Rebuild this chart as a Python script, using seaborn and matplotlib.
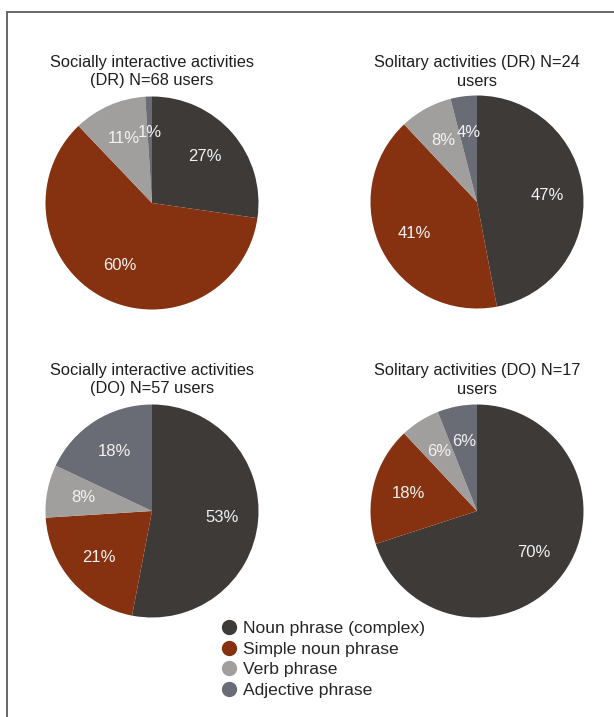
import matplotlib
matplotlib.use("Agg")
import matplotlib.pyplot as plt
from matplotlib.lines import Line2D
import seaborn as sns

sns.set_theme(style="white")
plt.rcParams["font.family"] = ["Liberation Sans", "DejaVu Sans"]

# Phrase categories and their colours
categories = ["Noun phrase (complex)", "Simple noun phrase", "Verb phrase", "Adjective phrase"]
colors = ["#3d3a38", "#86310f", "#a19f9d", "#6a6c75"]

# Percentage shares per group
titles = [
    "Socially interactive activities\n(DR) N=68 users",
    "Solitary activities (DR) N=24\nusers",
    "Socially interactive activities\n(DO) N=57 users",
    "Solitary activities (DO) N=17\nusers",
]
social_dr = [27, 60, 11, 1]
solitary_dr = [47, 41, 8, 4]
social_do = [53, 21, 8, 18]
solitary_do = [70, 18, 6, 6]
groups = [social_dr, solitary_dr, social_do, solitary_do]

W, H = 614, 717
fig = plt.figure(figsize=(W / 100, H / 100), dpi=100)
fig.patch.set_facecolor("white")

# pie centres and radius in pixels
centres = [(152, 203), (477, 202), (152, 511), (477, 511)]
radius = 106.5

for (cx, cy), vals, title in zip(centres, groups, titles):
    ax = fig.add_axes([(cx - radius) / W, (H - cy - radius) / H,
                       2 * radius / W, 2 * radius / H])
    ax.pie(vals, colors=colors, startangle=90, counterclock=False,
           labels=[f"{v}%" for v in vals], labeldistance=0.66,
           textprops=dict(color="#f2f2f2", fontsize=12, ha="center", va="center"),
           wedgeprops=dict(linewidth=0))
    ax.set_xlim(-1, 1)
    ax.set_ylim(-1, 1)
    ax.set_aspect("equal")
    ax.axis("off")
    ty = 72 if cy < 300 else 380
    fig.text(cx / W, (H - ty) / H, title,
             ha="center", va="center", fontsize=11.8, color="#1e1e1e",
             linespacing=1.25)

# legend
handles = [Line2D([], [], marker="o", linestyle="", markersize=10,
                  markerfacecolor=c, markeredgecolor=c) for c in colors]
fig.legend(handles, categories, loc="upper left",
           bbox_to_anchor=(210 / W, (H - 612) / H), frameon=False,
           fontsize=12.6, handletextpad=0.2, labelspacing=0.31,
           borderpad=0, handlelength=1.2)

# frame lines along top and left
fig.add_artist(Line2D([7 / W, 1], [(H - 12) / H, (H - 12) / H],
                      color="#666666", linewidth=1.4, transform=fig.transFigure))
fig.add_artist(Line2D([7 / W, 7 / W], [0, (H - 12) / H],
                      color="#666666", linewidth=1.4, transform=fig.transFigure))

fig.savefig("out.png", dpi=100, facecolor="white")
